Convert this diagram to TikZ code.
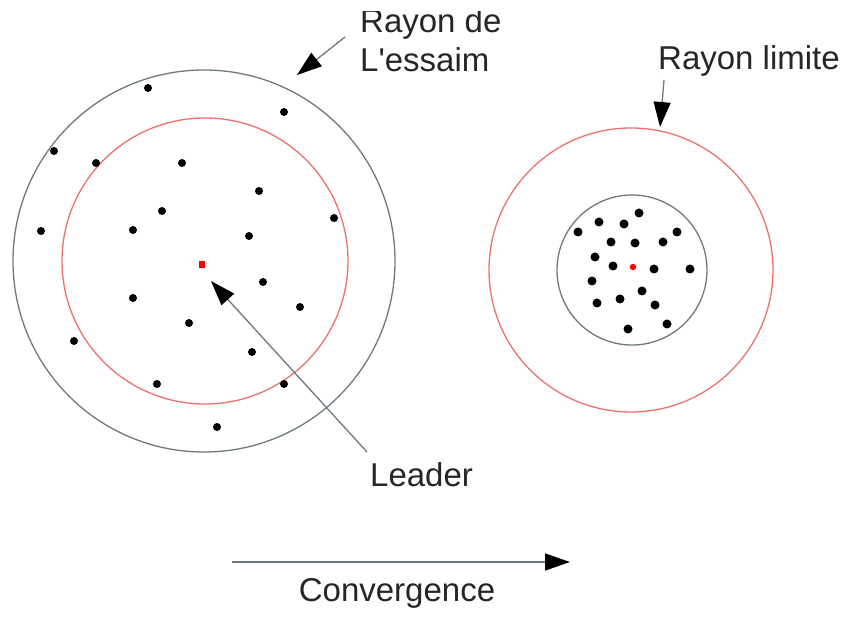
\documentclass[tikz,border=0pt]{standalone}
\usepackage{fontspec}
\setmainfont{Liberation Sans}[Ligatures=TeXOff]
\usetikzlibrary{arrows.meta}
\definecolor{ringgray}{HTML}{6E7A80}
\definecolor{ringred}{HTML}{F07070}
\begin{document}
\begin{tikzpicture}[x=1pt,y=-1pt,
  ring/.style={draw=ringgray,line width=1.3pt},
  limitring/.style={draw=ringred,line width=1.3pt},
  pointer/.style={draw=ringgray,line width=1.3pt,-{Triangle[length=25pt,width=17pt,black]}},
  label/.style={font=\fontsize{33}{39}\selectfont,text=black!85,inner sep=0pt},
  particle/.style={fill=black},
  leaderdot/.style={fill=red}]
\useasboundingbox[fill=white] (0,0) rectangle (847,617);

% --- swarm before convergence ---
\node[circle,ring,minimum size=382pt,inner sep=0pt] (swarmA) at (204,261) {};
\node[circle,limitring,minimum size=286pt,inner sep=0pt] (limitA) at (205,261) {};
\foreach \px/\py in {148/88,284/112,54/151,96/163,182/163,259/191,162/211,334/218,
  41/231,133/230,249/236,263/282,133/298,300/307,189/323,74/341,252/352,157/384,
  284/384,217/427}
  \fill[particle] (\px,\py) circle (4pt);
\fill[leaderdot] (199,261) rectangle (205,268);
\coordinate (leaderA) at (211,281);

% --- swarm after convergence ---
\node[circle,limitring,minimum size=284pt,inner sep=0pt] (limitB) at (631,270) {};
\node[circle,ring,minimum size=150pt,inner sep=0pt] (swarmB) at (632,270) {};
\foreach \px/\py in {639/213,599/222,624/224,578/232,677/232,611/242,635/243,663/242,
  595/257,613/266,654/269,690/269,592/281,642/291,597/303,620/299,655/305,628/329,667/324}
  \fill[particle] (\px,\py) circle (4.5pt);
\fill[leaderdot] (633,267) circle (3.2pt);

% --- labels ---
\begin{scope}
  \clip (0,12) rectangle (502,617);
  \node[label,anchor=base west] (rayonde) at (360,33) {Rayon de};
\end{scope}
\node[label,anchor=base west] (essaim) at (360,72) {L'essaim};
\node[label,anchor=base west] (limite) at (658,70) {Rayon limite};
\node[label,anchor=base west] (leader) at (370,487) {Leader};
\node[label,anchor=base] (conv) at (397,602) {Convergence};

% --- pointers ---
\coordinate (essaimTail) at (345,37);
\coordinate (essaimTip) at (297,75);
\coordinate (limiteTail) at (664,80);
\coordinate (limiteTip) at (660,127);
\coordinate (leaderTail) at (367,452);
\coordinate (convStart) at (232,562);
\coordinate (convEnd) at (570,562);
\draw[pointer] (essaimTail) -- (essaimTip);
\draw[pointer] (limiteTail) -- (limiteTip);
\draw[pointer] (leaderTail) -- (leaderA);
\draw[pointer] (convStart) -- (convEnd);
\end{tikzpicture}
\end{document}
